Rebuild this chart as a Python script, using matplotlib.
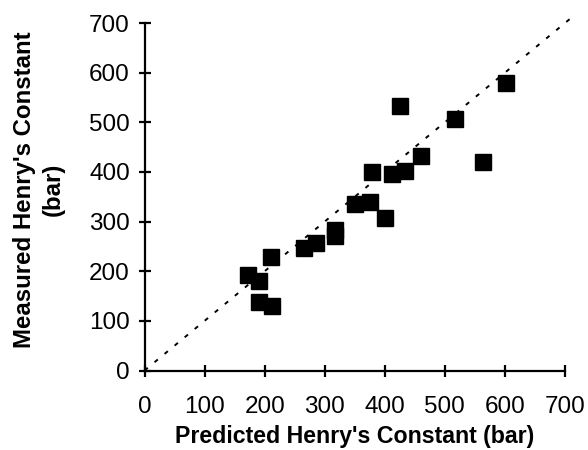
import matplotlib
matplotlib.use("Agg")
import matplotlib.pyplot as plt

plt.rcParams['font.family'] = ['Liberation Sans', 'DejaVu Sans']

# predicted vs measured Henry's constant (bar)
predicted = [173, 190, 190, 212, 210, 265, 286, 317, 317, 351,
             376, 379, 401, 412, 434, 426, 461, 517, 564, 601]
measured = [192, 180, 138, 129, 228, 246, 257, 284, 271, 335,
            339, 399, 308, 396, 402, 533, 432, 506, 421, 580]
ticks = [0, 100, 200, 300, 400, 500, 600, 700]

fig = plt.figure(figsize=(5.88, 4.5), dpi=100)
ax = fig.add_axes([144.5 / 588, 1 - 370.5 / 450, 420.5 / 588, 347.5 / 450])

# 1:1 reference line
ax.plot([0, 718], [0, 718], ls=(0, (2.2, 4.5)), color='black', lw=1.4, clip_on=False)
ax.plot(predicted, measured, 's', color='black', markersize=11.3, clip_on=False)

ax.set_xlim(0, 700)
ax.set_ylim(0, 700)
ax.set_xticks(ticks)
ax.set_yticks(ticks)
for s in ('top', 'right'):
    ax.spines[s].set_visible(False)
for s in ('left', 'bottom'):
    ax.spines[s].set_linewidth(1.6)
ax.tick_params(direction='inout', length=9, width=1.6, labelsize=17.5, pad=6)
ax.tick_params(axis='x', pad=14)

ax.set_xlabel("Predicted Henry's Constant (bar)", fontsize=16.7, fontweight='bold', labelpad=5)
ax.set_ylabel("Measured Henry's Constant\n(bar)", fontsize=17.3, fontweight='bold',
              linespacing=1.3)
ax.yaxis.set_label_coords(-0.19, 0.52)

fig.savefig('out.png', dpi=100)
